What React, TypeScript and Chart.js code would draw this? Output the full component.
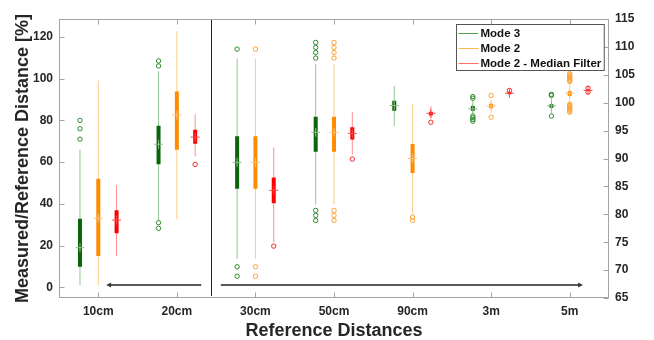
import React, { useEffect, useRef } from 'react';
import { Chart, registerables } from 'chart.js';

Chart.register(...registerables);

// ---------------- data ----------------
const CATEGORIES = ['10cm', '20cm', '30cm', '50cm', '90cm', '3m', '5m'];
// which value axis each category is read against (left axis [%] / right axis)
const AXIS_OF = ['y', 'y', 'y2', 'y2', 'y2', 'y2', 'y2'];
const SERIES = ['Mode 3', 'Mode 2', 'Mode 2 - Median Filter'];

const LEFT_TICKS = [0, 20, 40, 60, 80, 100, 120];
const RIGHT_TICKS = [65, 70, 75, 80, 85, 90, 95, 100, 105, 110, 115];

// Mode 3
const M3_LOW = [1.0, 32.2, 72.0, 81.8, 95.8, 97.9, 98.1];
const M3_Q1 = [9.9, 59.0, 84.6, 91.2, 98.55, 98.55, 99.1];
const M3_MED = [19.0, 68.6, 89.3, 94.7, 99.5, 98.9, 99.45];
const M3_Q3 = [32.9, 77.4, 94.0, 97.5, 100.35, 99.4, 99.7];
const M3_HIGH = [65.9, 103.5, 107.9, 106.9, 103.0, 100.4, 100.8];
const M3_OUT = [
  [71.0, 76.0, 80.0],
  [28.3, 31.0, 106.1, 108.5],
  [68.9, 70.6, 109.6],
  [78.9, 79.8, 80.7, 108.0, 109.0, 109.9, 110.8],
  [],
  [96.7, 97.0, 97.3, 97.6, 100.8, 101.1],
  [97.6, 101.3, 101.5],
];

// Mode 2
const M2_LOW = [1.0, 32.6, 72.0, 81.8, 80.1, 98.2, 99.9];
const M2_Q1 = [15.0, 66.0, 84.6, 91.2, 87.4, 99.0, 101.2];
const M2_MED = [33.1, 82.6, 89.3, 94.7, 90.0, 99.4, 101.7];
const M2_Q3 = [52.0, 93.9, 94.0, 97.5, 92.6, 99.8, 102.1];
const M2_HIGH = [99.0, 122.7, 107.9, 106.9, 99.8, 100.6, 103.6];
const M2_OUT = [
  [],
  [],
  [68.9, 70.6, 109.6],
  [78.9, 79.8, 80.7, 108.0, 109.0, 109.9, 110.8],
  [78.9, 79.5],
  [97.4, 101.3],
  [98.3, 98.5, 98.7, 98.9, 99.1, 99.3, 99.5, 99.7, 103.8, 104.0, 104.2, 104.4, 104.6, 104.8, 105.0, 105.2],
];

// Mode 2 - Median Filter
const MF_LOW = [14.9, 62.7, 75.0, 90.7, 97.2, 101.4, 102.0];
const MF_Q1 = [25.9, 68.8, 82.0, 93.4, 97.7, 101.5, 102.1];
const MF_MED = [32.2, 72.0, 84.3, 94.5, 98.1, 101.7, 102.2];
const MF_Q3 = [37.0, 75.5, 86.6, 95.6, 98.4, 101.9, 102.3];
const MF_HIGH = [49.0, 83.0, 92.0, 98.3, 99.4, 102.0, 102.45];
const MF_OUT = [[], [58.9], [74.3], [89.9], [96.5], [102.2], [101.9, 102.6]];

// annotations (data space)
const SEPARATOR_AT = 1.44;
const LEFT_ARROW = { from: 1.31, to: 0.1, y: 1.1, axis: 'y' };
const RIGHT_ARROW = { from: 1.56, to: 6.17, y: 67.3, axis: 'y2' };

// ---------------- styles ----------------
const FONT = 'Liberation Sans, Arial, Helvetica, sans-serif';
const TEXT = '#262626';
const FRAME = '#a3a3a3';
const GROUP_OFFSET = [-0.233, 0, 0.233];
const STYLE = [
  { box: '#0a650a', whisker: '#93c793', median: '#8cbf8c', out: '#2d8a2d', legend: '#4f9f4f' },
  { box: '#ff8c00', whisker: '#ffcc8a', median: '#ffbf73', out: '#ffa033', legend: '#ffb84d' },
  { box: '#ff0000', whisker: '#ff8c8c', median: '#ff4a4a', out: '#f02a2a', legend: '#ff6a6a' },
];

const STATS = [
  { low: M3_LOW, q1: M3_Q1, med: M3_MED, q3: M3_Q3, high: M3_HIGH, out: M3_OUT },
  { low: M2_LOW, q1: M2_Q1, med: M2_MED, q3: M2_Q3, high: M2_HIGH, out: M2_OUT },
  { low: MF_LOW, q1: MF_Q1, med: MF_MED, q3: MF_Q3, high: MF_HIGH, out: MF_OUT },
];

function segments(a: number[], b: number[], off: number, axis: string) {
  const pts: any[] = [];
  CATEGORIES.forEach((_, i) => {
    if (AXIS_OF[i] !== axis) return;
    pts.push({ x: i + off, y: a[i] }, { x: i + off, y: b[i] }, { x: i + off, y: null });
  });
  return pts;
}
function points(vals: number[], off: number, axis: string) {
  const pts: any[] = [];
  CATEGORIES.forEach((_, i) => {
    if (AXIS_OF[i] !== axis) return;
    pts.push({ x: i + off, y: vals[i] });
  });
  return pts;
}
function outPoints(vals: number[][], off: number, axis: string) {
  const pts: any[] = [];
  CATEGORIES.forEach((_, i) => {
    if (AXIS_OF[i] !== axis) return;
    vals[i].forEach((v) => pts.push({ x: i + off, y: v }));
  });
  return pts;
}

function buildDatasets() {
  const ds: any[] = [];
  SERIES.forEach((name, s) => {
    const st = STATS[s];
    const c = STYLE[s];
    const off = GROUP_OFFSET[s];
    ['y', 'y2'].forEach((axis) => {
      ds.push({
        label: name + ' whisker', yAxisID: axis, order: 4,
        data: segments(st.low, st.high, off, axis),
        borderColor: c.whisker, borderWidth: 1, pointRadius: 0, showLine: true,
        spanGaps: false, borderCapStyle: 'butt',
      });
      ds.push({
        label: name + ' box', yAxisID: axis, order: 3,
        data: segments(st.q1, st.q3, off, axis),
        borderColor: c.box, borderWidth: 4, pointRadius: 0, showLine: true,
        spanGaps: false, borderCapStyle: 'butt',
      });
      ds.push({
        label: name + ' median', yAxisID: axis, order: 2,
        data: points(st.med, off, axis),
        showLine: false, pointStyle: 'cross', pointRadius: 4.5,
        borderColor: c.median, backgroundColor: c.median, pointBorderWidth: 1,
      });
      ds.push({
        label: name + ' outliers', yAxisID: axis, order: 1,
        data: outPoints(st.out, off, axis),
        showLine: false, pointStyle: 'circle', pointRadius: 2.2,
        borderColor: c.out, backgroundColor: 'rgba(0,0,0,0)', pointBorderWidth: 1,
      });
    });
  });
  return ds;
}

function drawArrow(ctx: CanvasRenderingContext2D, x1: number, x2: number, y: number) {
  const dir = Math.sign(x2 - x1);
  ctx.strokeStyle = '#5a5a5a';
  ctx.fillStyle = '#3a3a3a';
  ctx.lineWidth = 2;
  ctx.beginPath();
  ctx.moveTo(x1, y);
  ctx.lineTo(x2 - dir * 4, y);
  ctx.stroke();
  ctx.beginPath();
  ctx.moveTo(x2, y);
  ctx.lineTo(x2 - dir * 5, y - 2.5);
  ctx.lineTo(x2 - dir * 5, y + 2.5);
  ctx.closePath();
  ctx.fill();
}

const overlayPlugin = {
  id: 'overlay',
  afterDatasetsDraw(chart: any) {
    const { ctx, chartArea: ca, scales } = chart;
    const xs = scales.x;
    ctx.save();
    // separator
    const sx = Math.round(xs.getPixelForValue(SEPARATOR_AT)) + 0.5;
    ctx.strokeStyle = '#222';
    ctx.lineWidth = 1;
    ctx.beginPath();
    ctx.moveTo(sx, ca.top);
    ctx.lineTo(sx, ca.bottom - 2);
    ctx.stroke();
    // arrows
    [LEFT_ARROW, RIGHT_ARROW].forEach((a) => {
      const sc = scales[a.axis];
      const y = Math.round(sc.getPixelForValue(a.y));
      drawArrow(ctx, xs.getPixelForValue(a.from), xs.getPixelForValue(a.to), y);
    });
    // frame
    ctx.strokeStyle = FRAME;
    ctx.lineWidth = 1;
    const L = Math.round(ca.left) + 0.5, R = Math.round(ca.right) - 0.5;
    const T = Math.round(ca.top) + 0.5, B = Math.round(ca.bottom) - 0.5;
    ctx.strokeRect(L, T, R - L, B - T);
    // inward ticks
    const TL = 5;
    ctx.beginPath();
    xs.ticks.forEach((t: any) => {
      const px = Math.round(xs.getPixelForValue(t.value)) + 0.5;
      ctx.moveTo(px, B); ctx.lineTo(px, B - TL);
      ctx.moveTo(px, T); ctx.lineTo(px, T + TL);
    });
    scales.y.ticks.forEach((t: any) => {
      const py = Math.round(scales.y.getPixelForValue(t.value)) + 0.5;
      ctx.moveTo(L, py); ctx.lineTo(L + TL, py);
    });
    scales.y2.ticks.forEach((t: any) => {
      const py = Math.round(scales.y2.getPixelForValue(t.value)) + 0.5;
      ctx.moveTo(R, py); ctx.lineTo(R - TL, py);
    });
    ctx.stroke();
    // legend
    ctx.font = `bold 11.5px ${FONT}`;
    const padL = 2, sample = 20, gap = 2, padR = 3, rowH = 15;
    const tw = Math.max(...SERIES.map((s) => ctx.measureText(s).width));
    const w = padL + sample + gap + tw + padR;
    const h = 46;
    const lx = Math.round(ca.right - 5 - w) + 0.5;
    const ly = Math.round(ca.top + 5) + 0.5;
    ctx.fillStyle = '#fff';
    ctx.fillRect(lx, ly, w, h);
    ctx.strokeStyle = '#555';
    ctx.strokeRect(lx, ly, w, h);
    ctx.textBaseline = 'middle';
    ctx.textAlign = 'left';
    SERIES.forEach((s, i) => {
      const cy = Math.round(ly + 8.5 + i * rowH) + 0.5;
      ctx.strokeStyle = STYLE[i].legend;
      ctx.lineWidth = 1;
      ctx.beginPath();
      ctx.moveTo(lx + padL, cy);
      ctx.lineTo(lx + padL + sample, cy);
      ctx.stroke();
      ctx.fillStyle = '#111';
      ctx.fillText(s, lx + padL + sample + gap, cy);
    });
    ctx.restore();
  },
};

export default function App() {
  const ref = useRef<HTMLCanvasElement>(null);
  useEffect(() => {
    document.body.style.margin = '0';
    const tickFont = { family: FONT, size: 12, weight: 'bold' as const };
    const chart = new Chart(ref.current as HTMLCanvasElement, {
      type: 'line',
      data: { datasets: buildDatasets() },
      options: {
        animation: false,
        responsive: true,
        maintainAspectRatio: false,
        layout: { padding: { top: 19, left: 0, right: 0, bottom: 0 } },
        plugins: { legend: { display: false }, tooltip: { enabled: false } },
        scales: {
          x: {
            type: 'linear',
            min: -0.5,
            max: CATEGORIES.length - 0.5,
            afterBuildTicks: (sc: any) => { sc.ticks = CATEGORIES.map((_, i) => ({ value: i })); },
            afterFit: (sc: any) => { sc.height = 42; },
            ticks: {
              callback: (v: any) => CATEGORIES[Math.round(v)] ?? '',
              font: tickFont, color: TEXT, padding: 6, maxRotation: 0, autoSkip: false,
            },
            grid: { display: false, drawTicks: false },
            border: { display: false },
            title: {
              display: true, text: 'Reference Distances', color: TEXT,
              font: { family: FONT, size: 18, weight: 'bold', lineHeight: 1.0 }, padding: { top: 0, bottom: 0 },
            },
          },
          y: {
            type: 'linear', position: 'left', min: -5.1, max: 128.6, stacked: false,
            afterBuildTicks: (sc: any) => { sc.ticks = LEFT_TICKS.map((v) => ({ value: v })); },
            afterFit: (sc: any) => { sc.width = 59; },
            ticks: { font: tickFont, color: TEXT, padding: 6 },
            grid: { display: false, drawTicks: false },
            border: { display: false },
            title: {
              display: true, text: 'Measured/Reference Distance [%]', color: TEXT,
              font: { family: FONT, size: 18, weight: 'bold' }, padding: { top: 12, bottom: 0 },
            },
          },
          y2: {
            type: 'linear', position: 'right', min: 65, max: 115, stacked: false,
            afterBuildTicks: (sc: any) => { sc.ticks = RIGHT_TICKS.map((v) => ({ value: v })); },
            afterFit: (sc: any) => { sc.width = 45; },
            ticks: { font: tickFont, color: TEXT, padding: 6 },
            grid: { display: false, drawTicks: false },
            border: { display: false },
          },
        },
      } as any,
      plugins: [overlayPlugin],
    });
    return () => chart.destroy();
  }, []);
  return (
    <div style={{ width: 654, height: 340, position: 'relative' }}>
      <canvas ref={ref} />
    </div>
  );
}
